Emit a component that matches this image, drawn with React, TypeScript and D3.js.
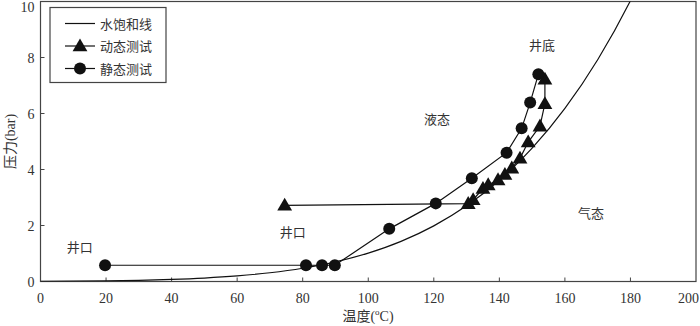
import React from "react";
import * as d3 from "d3";

// Saturation line (water), temperature °C and pressure bar
const satT = [0, 10, 20, 30, 40, 50, 60, 70, 80, 90, 100, 110, 120, 130, 140, 150, 160, 170, 180, 190];
const satP = [0.0061, 0.0123, 0.0234, 0.0425, 0.0738, 0.1235, 0.1995, 0.312, 0.4741, 0.7018, 1.0142, 1.4338, 1.9867, 2.7028, 3.6154, 4.7616, 6.1823, 7.9219, 10.028, 12.552];

// Dynamic test (triangles)
const dynT = [74.5, 130.5, 132, 135, 136.6, 139.6, 141.7, 143.8, 146.3, 148.8, 152.4, 153.9, 153.9];
const dynP = [2.72, 2.78, 2.92, 3.32, 3.45, 3.63, 3.82, 4.05, 4.4, 4.98, 5.55, 6.35, 7.22];

// Static test (circles)
const staT = [19.7, 81, 85.9, 89.8, 106.4, 120.6, 131.6, 142.2, 146.8, 149.4, 151.9];
const staP = [0.58, 0.58, 0.58, 0.58, 1.88, 2.79, 3.69, 4.6, 5.47, 6.39, 7.4];

const xTicks = [0, 20, 40, 60, 80, 100, 120, 140, 160, 180, 200];
const yTicks = [0, 2, 4, 6, 8, 10];

const legendLabels = ["水饱和线", "动态测试", "静态测试"];

const annotations = [
  { text: "井底", t: 153, p: 8.45 },
  { text: "液态", t: 121, p: 5.8 },
  { text: "气态", t: 168, p: 2.45 },
  { text: "井口", t: 12, p: 1.25 },
  { text: "井口", t: 77, p: 1.78 },
];

const W = 700;
const H = 326;
const M = { left: 40.5, right: 4, top: 1.5, bottom: 44.5 };

const FONT = "Times New Roman, Liberation Serif, Noto Sans CJK SC, serif";
const CJK = "Noto Sans CJK SC, Liberation Serif, serif";
const TXT = "#333";
const AX = "#444";

export default function App() {
  const x = d3.scaleLinear().domain([0, 200]).range([M.left, W - M.right]);
  const y = d3.scaleLinear().domain([0, 10]).range([H - M.bottom, M.top]);

  const sat = satT.map((t, i) => [t, satP[i]] as [number, number]);
  const dyn = dynT.map((t, i) => [t, dynP[i]] as [number, number]);
  const sta = staT.map((t, i) => [t, staP[i]] as [number, number]);

  const curve = d3
    .line<[number, number]>()
    .x((d) => x(d[0]))
    .y((d) => y(d[1]))
    .curve(d3.curveMonotoneX);
  const poly = d3
    .line<[number, number]>()
    .x((d) => x(d[0]))
    .y((d) => y(d[1]));

  const tri = d3.symbol().type(d3.symbolTriangle).size(95);
  const triPath = tri() as string;

  const x0 = x(0);
  const x1 = x(200);
  const y0 = y(0);
  const y1 = y(10);

  const serif = { fontFamily: FONT };
  const cjk = { fontFamily: CJK };

  return (
    <svg
      width={W}
      height={H}
      style={{ position: "absolute", left: 0, top: 0, background: "#fff" }}
    >
      <defs>
        <clipPath id="plot">
          <rect x={x0} y={y1} width={x1 - x0} height={y0 - y1} />
        </clipPath>
      </defs>

      {/* frame */}
      <rect x={x0} y={y1} width={x1 - x0} height={y0 - y1} fill="none" stroke={AX} strokeWidth={1.2} />

      {/* x ticks */}
      {xTicks.map((t, i) => {
        const last = i === xTicks.length - 1;
        return (
          <g key={"xt" + t}>
            {t > 0 && t < 200 && (
              <line x1={x(t)} x2={x(t)} y1={y0} y2={y0 - 4} stroke={AX} strokeWidth={1} />
            )}
            <text
              x={last ? W - 1 : x(t)}
              y={y0 + 21}
              textAnchor={last ? "end" : "middle"}
              style={serif}
              fontSize={14}
              fill={TXT}
            >
              {t}
            </text>
          </g>
        );
      })}

      {/* y ticks */}
      {yTicks.map((t, i) => {
        const last = i === yTicks.length - 1;
        return (
          <g key={"yt" + t}>
            {t > 0 && t < 10 && (
              <line x1={x0} x2={x0 + 4} y1={y(t)} y2={y(t)} stroke={AX} strokeWidth={1} />
            )}
            <text
              x={x0 - 6}
              y={last ? 12 : y(t) + 5}
              textAnchor="end"
              style={serif}
              fontSize={14}
              fill={TXT}
            >
              {t}
            </text>
          </g>
        );
      })}

      {/* axis titles */}
      <text x={368} y={321} textAnchor="middle" fontSize={14} fill={TXT} style={serif}>
        <tspan style={cjk}>温度</tspan>
        <tspan>(</tspan>
        <tspan fontSize={9} dy={-6}>o</tspan>
        <tspan dy={6}>C)</tspan>
      </text>
      <text
        transform={`translate(15, ${(y0 + y1) / 2}) rotate(-90)`}
        textAnchor="middle"
        fontSize={14}
        fill={TXT}
        style={serif}
      >
        <tspan style={cjk}>压力</tspan>
        <tspan>(bar)</tspan>
      </text>

      <g clipPath="url(#plot)">
        <path d={curve(sat) || ""} fill="none" stroke="#111" strokeWidth={1.2} />
        <path d={poly(dyn) || ""} fill="none" stroke="#111" strokeWidth={1.2} />
        <path d={poly(sta) || ""} fill="none" stroke="#111" strokeWidth={1.2} />
        {dyn.map((d, i) => (
          <path key={"tr" + i} d={triPath} transform={`translate(${x(d[0])},${y(d[1]) + 1})`} fill="#111" />
        ))}
        {sta.map((d, i) => (
          <circle key={"ci" + i} cx={x(d[0])} cy={y(d[1])} r={6} fill="#111" />
        ))}
      </g>

      {/* annotations */}
      {annotations.map((a, i) => (
        <text
          key={"an" + i}
          x={x(a.t)}
          y={y(a.p) + 5}
          textAnchor="middle"
          style={cjk}
          fontSize={13}
          fill={TXT}
        >
          {a.text}
        </text>
      ))}

      {/* legend */}
      <g>
        <rect x={50} y={7.5} width={116} height={75} fill="#fff" stroke={AX} strokeWidth={1.2} />
        {legendLabels.map((lab, i) => {
          const ly = 23.5 + i * 22.5;
          return (
            <g key={"lg" + i}>
              <line x1={65} x2={95} y1={ly} y2={ly} stroke="#111" strokeWidth={1.2} />
              {i === 1 && <path d={triPath} transform={`translate(80,${ly + 1})`} fill="#111" />}
              {i === 2 && <circle cx={80} cy={ly} r={6} fill="#111" />}
              <text x={100} y={ly + 5} style={cjk} fontSize={13} fill={TXT}>
                {lab}
              </text>
            </g>
          );
        })}
      </g>
    </svg>
  );
}
